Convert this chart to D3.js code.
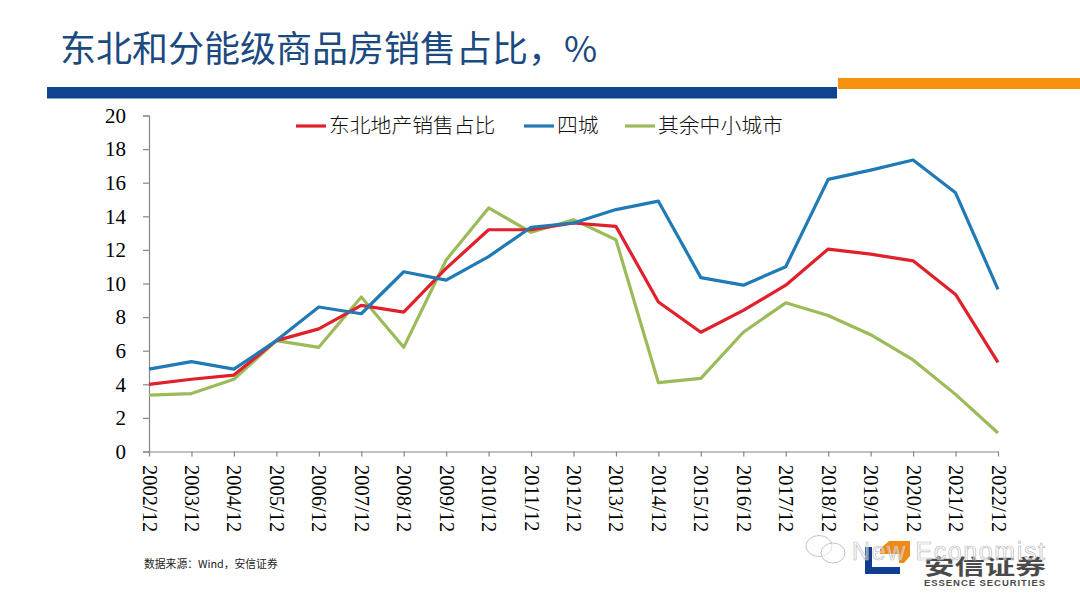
<!DOCTYPE html>
<html>
<head>
<meta charset="utf-8">
<script src="https://cdn.jsdelivr.net/npm/d3@7"></script>
<style>
  html, body { margin: 0; padding: 0; background: #fff; }
  svg { display: block; }
</style>
</head>
<body>
<div id="chart"></div>
<script>
const years = ["2002/12","2003/12","2004/12","2005/12","2006/12","2007/12","2008/12","2009/12","2010/12","2011/12","2012/12","2013/12","2014/12","2015/12","2016/12","2017/12","2018/12","2019/12","2020/12","2021/12","2022/12"]
const northeast = [4.0,4.3,4.55,6.6,7.3,8.7,8.3,10.9,13.2,13.2,13.6,13.4,8.9,7.1,8.4,9.9,12.05,11.75,11.35,9.35,5.3]
const fourCities = [4.9,5.35,4.9,6.6,8.6,8.2,10.7,10.2,11.6,13.35,13.6,14.4,14.9,10.35,9.9,11.0,16.2,16.75,17.35,15.4,9.65]
const smallCities = [3.35,3.45,4.3,6.6,6.2,9.2,6.2,11.4,14.5,13.05,13.8,12.6,4.1,4.35,7.1,8.85,8.1,6.95,5.45,3.4,1.1]
const yTicks = [0,2,4,6,8,10,12,14,16,18,20]

const seriesNames = ["东北地产销售占比","四城","其余中小城市"]
const seriesColors = ["#e0202a","#1f7ab5","#9bbb59"]

const width = 1080, height = 596
const serif = "'Liberation Serif', serif"
const cjk = "'Noto Sans CJK SC', sans-serif"

const svg = d3.select("#chart").append("svg")
    .attr("width", width)
    .attr("height", height)

// title and header bars
svg.append("text")
    .attr("x", 60).attr("y", 62)
    .attr("font-family", cjk)
    .attr("font-size", 36)
    .attr("fill", "#1b4a80")
    .text("东北和分能级商品房销售占比，%")

svg.append("rect").attr("x", 47).attr("y", 87).attr("width", 790).attr("height", 11.5).attr("fill", "#0f4391")
svg.append("rect").attr("x", 838).attr("y", 78).attr("width", 242).attr("height", 11).attr("fill", "#f7920f")

// scales
const x = d3.scalePoint().domain(years).range([149, 998])
const y = d3.scaleLinear().domain([0, 20]).range([451.5, 115.5])

// axes
const yAxis = svg.append("g")
    .attr("transform", "translate(149,0)")
    .call(d3.axisLeft(y).tickValues(yTicks).tickSize(6).tickPadding(17))
yAxis.selectAll("text")
    .attr("font-family", serif)
    .attr("font-size", 21)
    .attr("fill", "#000")

const xAxis = svg.append("g")
    .attr("transform", "translate(0,451.5)")
    .call(d3.axisBottom(x).tickSize(5).tickSizeOuter(0))
xAxis.selectAll("text")
    .attr("font-family", serif)
    .attr("font-size", 20.5)
    .attr("fill", "#000")
    .attr("text-anchor", "start")
    .attr("dominant-baseline", "central")
    .attr("x", 0).attr("y", 0).attr("dy", 0)
    .attr("transform", "translate(0,13.5) rotate(90)")

svg.selectAll(".domain, .tick line").attr("stroke", "#868686").attr("stroke-width", 1.2)

// lines
const line = d3.line().x((d, i) => x(years[i])).y(d => y(d))

const allSeries = [northeast, fourCities, smallCities]
const drawOrder = [2, 0, 1]
drawOrder.forEach(function (k) {
    svg.append("path")
        .datum(allSeries[k])
        .attr("d", line)
        .attr("fill", "none")
        .attr("stroke", seriesColors[k])
        .attr("stroke-width", 3.2)
        .attr("stroke-linejoin", "round")
})

// legend
const legendX = [296, 524, 625]
seriesNames.forEach(function (name, i) {
    svg.append("line")
        .attr("x1", legendX[i]).attr("x2", legendX[i] + 30)
        .attr("y1", 126).attr("y2", 126)
        .attr("stroke", seriesColors[i])
        .attr("stroke-width", 3.2)
    svg.append("text")
        .attr("x", legendX[i] + 33).attr("y", 133)
        .attr("font-family", cjk)
        .attr("font-size", 20.8)
        .attr("font-weight", 300)
        .attr("fill", "#111")
        .text(name)
})

// source
svg.append("text")
    .attr("x", 144).attr("y", 568)
    .attr("font-family", cjk)
    .attr("font-size", 10.8)
    .attr("fill", "#222")
    .text("数据来源：Wind，安信证券")

// logo
svg.append("path")
    .attr("d", "M865,547 H872 V567 H900 V574 H865 Z")
    .attr("fill", "#0f3f91")
svg.append("path")
    .attr("d", "M880,549 L889,541 H910 V556 L904,563 H899 V554 H880 Z")
    .attr("fill", "#f08a12")
svg.append("text")
    .attr("transform", "translate(924,574) scale(1.45,1)")
    .attr("font-family", cjk)
    .attr("font-size", 21)
    .attr("font-weight", 700)
    .attr("fill", "#4a4a4a")
    .text("安信证券")
svg.append("text")
    .attr("x", 924).attr("y", 586)
    .attr("font-family", "'Liberation Sans', sans-serif")
    .attr("font-size", 9.5)
    .attr("font-weight", 700)
    .attr("textLength", 121)
    .attr("fill", "#4a4a4a")
    .text("ESSENCE SECURITIES")

// watermark
const wm = svg.append("g").attr("fill", "#fff").attr("fill-opacity", .55).attr("stroke", "#c4c4c4").attr("stroke-width", 1)
wm.append("ellipse").attr("cx", 819).attr("cy", 546).attr("rx", 13).attr("ry", 10.5)
wm.append("ellipse").attr("cx", 833).attr("cy", 553).attr("rx", 12).attr("ry", 10)
svg.append("text")
    .attr("x", 852).attr("y", 560)
    .attr("font-family", "'Liberation Sans', sans-serif")
    .attr("font-size", 25)
    .attr("textLength", 193)
    .attr("fill", "#fff")
    .attr("fill-opacity", .45)
    .attr("stroke", "#bdbdbd")
    .attr("stroke-width", .7)
    .text("New Economist")
</script>
</body>
</html>
